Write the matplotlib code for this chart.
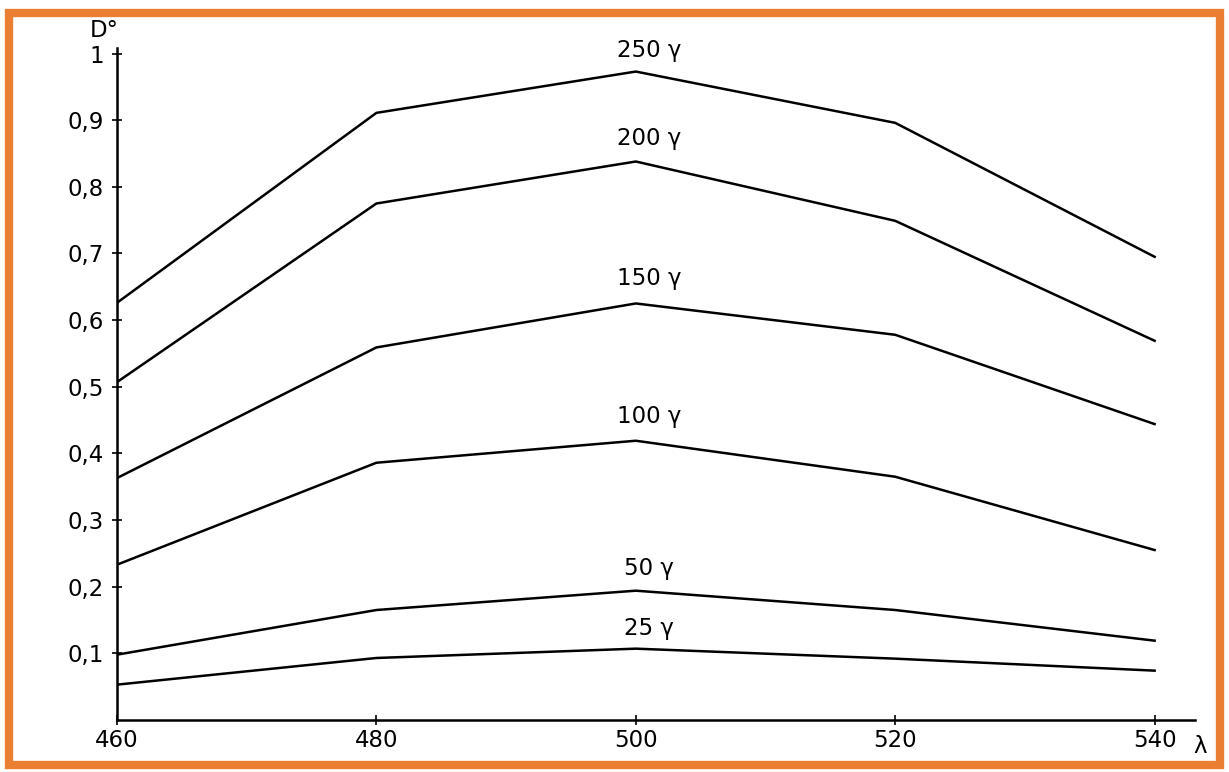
import matplotlib.pyplot as plt
from matplotlib.patches import Rectangle

wavelengths = [460, 480, 500, 520, 540]
doses = ["250 γ", "200 γ", "150 γ", "100 γ", "50 γ", "25 γ"]
densities = [
    [0.626, 0.911, 0.973, 0.896, 0.695],
    [0.507, 0.775, 0.838, 0.749, 0.569],
    [0.363, 0.559, 0.625, 0.578, 0.444],
    [0.233, 0.386, 0.419, 0.365, 0.255],
    [0.098, 0.165, 0.194, 0.165, 0.119],
    [0.053, 0.093, 0.107, 0.092, 0.074],
]
label_y = [1.005, 0.872, 0.662, 0.456, 0.228, 0.138]
y_ticks = [0.1, 0.2, 0.3, 0.4, 0.5, 0.6, 0.7, 0.8, 0.9, 1.0]
y_tick_labels = ["0,1", "0,2", "0,3", "0,4", "0,5", "0,6", "0,7", "0,8", "0,9", "1"]
x_tick_labels = ["460", "480", "500", "520", "540"]

FS = 16.5

fig = plt.figure(figsize=(12.29, 7.72), dpi=100)
ax = fig.add_axes([0.0952, 0.0674, 0.877, 0.871])

for values, dose, ly in zip(densities, doses, label_y):
    ax.plot(wavelengths, values, color="black", linewidth=1.8)
    ax.text(501, ly, dose, ha="center", va="center", fontsize=FS)

ax.set_xlim(460, 543.1)
ax.set_ylim(0, 1.009)
ax.set_xticks(wavelengths)
ax.set_xticklabels(x_tick_labels, fontsize=FS)
ax.set_yticks(y_ticks)
ax.set_yticklabels(y_tick_labels, fontsize=FS)
ax.tick_params(direction="inout", length=7, width=1.2)
ax.tick_params(axis="x", pad=3)
ax.tick_params(axis="y", pad=6)
for side in ["top", "right"]:
    ax.spines[side].set_visible(False)
for side in ["left", "bottom"]:
    ax.spines[side].set_linewidth(1.8)

ax.text(-0.012, 1.026, "D°", transform=ax.transAxes, fontsize=FS, ha="center", va="center")
ax.text(543.5, -0.04, "λ", fontsize=FS, ha="center", va="center")

fig.patches.append(
    Rectangle((9 / 1229, 7 / 772), 1211 / 1229, 752 / 772, transform=fig.transFigure,
              fill=False, edgecolor="#ea7f33", linewidth=6)
)

fig.savefig("out.png", dpi=100)
